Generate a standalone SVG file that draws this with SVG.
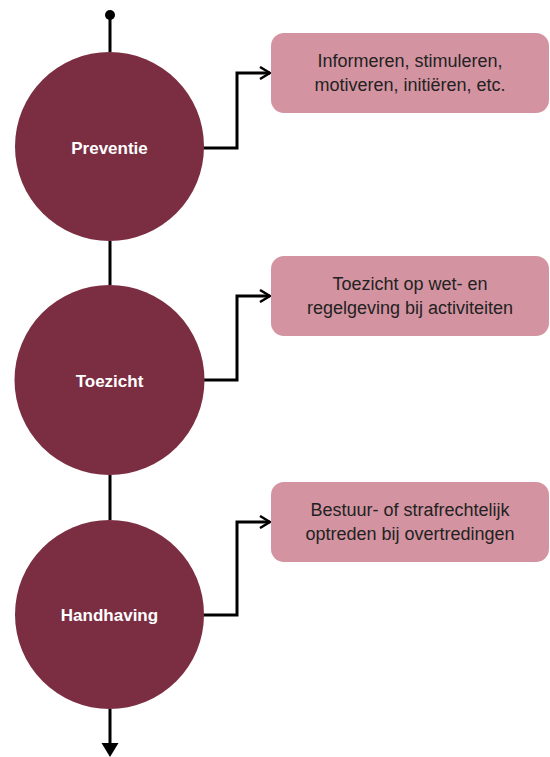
<svg xmlns="http://www.w3.org/2000/svg" width="550" height="757" viewBox="0 0 550 757">
<defs>
<marker id="open" viewBox="0 0 12 14" refX="11" refY="7" markerWidth="12" markerHeight="14" markerUnits="userSpaceOnUse" orient="auto"><path d="M1,1 L11,7 L1,13" fill="none" stroke="#000" stroke-width="2.5"/></marker>
<marker id="dot" viewBox="0 0 10 10" refX="5" refY="5" markerWidth="10" markerHeight="10" markerUnits="userSpaceOnUse"><circle cx="5" cy="5" r="5" fill="#000"/></marker>
</defs>
<style>
.circ{fill:#7b2e42}
.box{fill:#d493a1}
.ct{font-family:"Liberation Sans",Arial,sans-serif;font-size:17px;font-weight:bold;fill:#fff;text-anchor:middle}
.bt{font-family:"Liberation Sans",Arial,sans-serif;font-size:18px;fill:#222;text-anchor:middle}
.ln{fill:none;stroke:#000;stroke-width:3}
</style>
<g id="connectors">
<line class="ln" x1="110" y1="15" x2="110" y2="52" marker-start="url(#dot)"/>
<line class="ln" x1="110" y1="241" x2="110" y2="285"/>
<line class="ln" x1="110" y1="475" x2="110" y2="520"/>
<line class="ln" x1="110" y1="709" x2="110" y2="743"/>
<path d="M101.5,743 L118.5,743 L110,757 Z" fill="#000"/>
<polyline class="ln" points="202,148 237,148 237,73 270,73" marker-end="url(#open)"/>
<polyline class="ln" points="202,380 237,380 237,296 270,296" marker-end="url(#open)"/>
<polyline class="ln" points="202,615 237,615 237,522 270,522" marker-end="url(#open)"/>
</g>
<g id="preventie"><circle class="circ" cx="109.5" cy="146.5" r="94.5"/><text class="ct" x="109.5" y="154">Preventie</text></g>
<g id="toezicht"><circle class="circ" cx="109.5" cy="380" r="95"/><text class="ct" x="109.5" y="387">Toezicht</text></g>
<g id="handhaving"><circle class="circ" cx="109.5" cy="614.5" r="94.5"/><text class="ct" x="109.5" y="621">Handhaving</text></g>
<g id="box1"><rect class="box" x="271" y="33" width="278" height="80" rx="13"/><text class="bt" x="410" y="67">Informeren, stimuleren,</text><text class="bt" x="410" y="91">motiveren, initiëren, etc.</text></g>
<g id="box2"><rect class="box" x="271" y="256" width="278" height="80" rx="13"/><text class="bt" x="410" y="290">Toezicht op wet- en</text><text class="bt" x="410" y="314">regelgeving bij activiteiten</text></g>
<g id="box3"><rect class="box" x="271" y="482" width="278" height="80" rx="13"/><text class="bt" x="410" y="516">Bestuur- of strafrechtelijk</text><text class="bt" x="410" y="540">optreden bij overtredingen</text></g>
</svg>
